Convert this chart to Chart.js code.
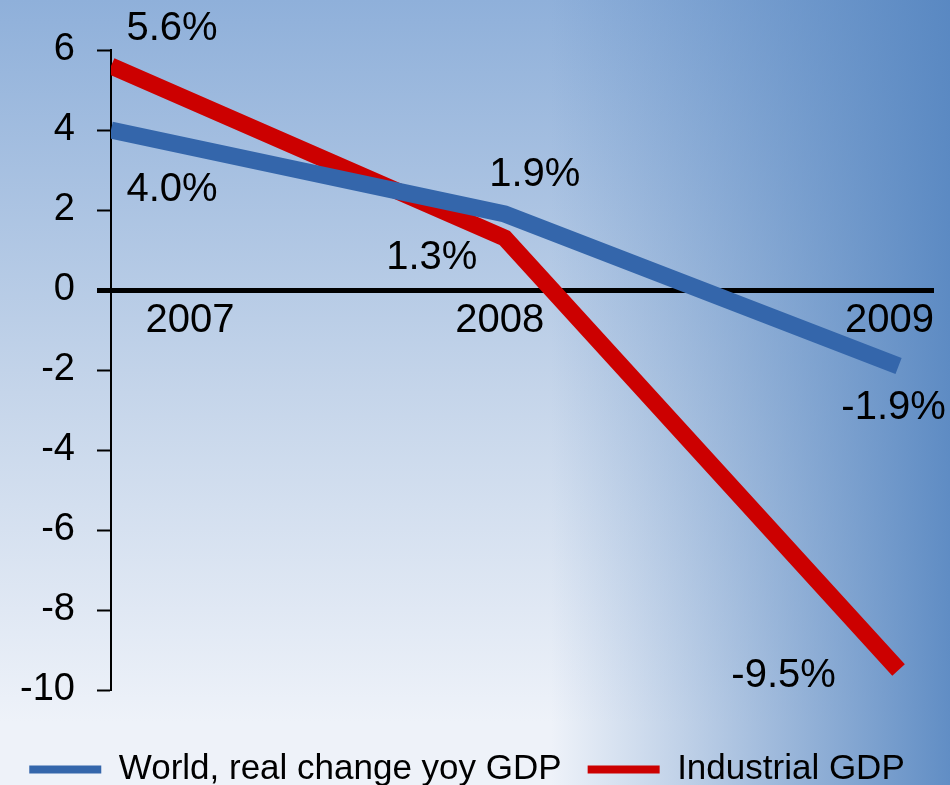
<!DOCTYPE html>
<html>
<head>
<meta charset="utf-8">
<script src="https://cdn.jsdelivr.net/npm/chart.js@4.4.1/dist/chart.umd.min.js"></script>
<style>
  html, body { margin: 0; padding: 0; }
  body {
    width: 950px;
    height: 785px;
    overflow: hidden;
    background:
      linear-gradient(to right, rgba(85,133,192,0) 0%, rgba(85,133,192,0) 58%, rgba(85,133,192,0.92) 100%),
      linear-gradient(to bottom, #8fb0da 0%, #c5d5ea 50%, #eef2f9 92%);
  }
</style>
</head>
<body>
<canvas id="gdpChart" width="950" height="785"></canvas>
<script>
const years = [2007, 2008, 2009];
const worldGdp = [4.0, 1.9, -1.9];
const industrialGdp = [5.6, 1.3, -9.5];
const seriesNames = ['World, real change yoy GDP', 'Industrial GDP'];
const seriesColors = ['#3466ab', '#cc0000'];

const font = '"Liberation Sans", Arial, sans-serif';

// where each value label sits relative to its point
const labelOffsets = [
  [[61, 60], [30, -39], [-5, 42]],
  [[61, -37], [-73, 20], [-115, 6]]
];
// year labels sit just under the zero line
const yearOffsets = [79, -5, -9];

const valueLabels = {
  id: 'valueLabels',
  afterDatasetsDraw(chart) {
    const ctx = chart.ctx;
    ctx.save();
    ctx.font = '40px ' + font;
    ctx.fillStyle = '#000';
    ctx.textAlign = 'center';
    ctx.textBaseline = 'middle';
    chart.data.datasets.forEach((ds, i) => {
      chart.getDatasetMeta(i).data.forEach((pt, j) => {
        const off = labelOffsets[i][j];
        ctx.fillText(ds.data[j].y.toFixed(1) + '%', pt.x + off[0], pt.y + off[1]);
      });
    });
    const xs = chart.scales.x, ys = chart.scales.y;
    const y0 = ys.getPixelForValue(0);
    years.forEach((yr, j) => {
      ctx.fillText(String(yr), xs.getPixelForValue(yr) + yearOffsets[j], y0 + 31);
    });
    ctx.restore();
  }
};

const chart = new Chart(document.getElementById('gdpChart'), {
  type: 'line',
  data: {
    datasets: [
      {
        label: seriesNames[0],
        data: years.map((y, i) => ({ x: y, y: worldGdp[i] })),
        borderColor: seriesColors[0],
        backgroundColor: seriesColors[0],
        borderWidth: 17,
        pointRadius: 0,
        tension: 0,
        clip: 0
      },
      {
        label: seriesNames[1],
        data: years.map((y, i) => ({ x: y, y: industrialGdp[i] })),
        borderColor: seriesColors[1],
        backgroundColor: seriesColors[1],
        borderWidth: 17,
        pointRadius: 0,
        tension: 0,
        clip: 0
      }
    ]
  },
  options: {
    responsive: false,
    animation: false,
    layout: { padding: { top: 50, right: 16, left: 0, bottom: -12 } },
    scales: {
      x: {
        type: 'linear',
        min: 2007,
        max: 2009.09,
        ticks: { display: false },
        grid: { display: false },
        border: { display: false },
        afterFit: s => { s.height = 36; }
      },
      y: {
        min: -10,
        max: 6,
        ticks: {
          stepSize: 2,
          color: '#000',
          padding: 22,
          font: { family: font, size: 38 }
        },
        grid: {
          drawOnChartArea: true,
          tickLength: 14,
          color: c => c.tick && c.tick.value === 0 ? '#000' : 'rgba(0,0,0,0)',
          lineWidth: c => c.tick && c.tick.value === 0 ? 5 : 1,
          tickColor: '#000',
          tickWidth: c => c.tick && c.tick.value === 0 ? 5 : 2
        },
        border: { display: true, color: '#000', width: 2 },
        afterFit: s => { s.width = 111; }
      }
    },
    plugins: {
      tooltip: { enabled: false },
      legend: {
        position: 'bottom',
        labels: {
          boxWidth: 72,
          boxHeight: 8,
          padding: 26,
          color: '#000',
          font: { family: font, size: 35 },
          generateLabels: c => c.data.datasets.map((ds, i) => ({
            text: ds.label,
            fillStyle: ds.borderColor,
            strokeStyle: ds.borderColor,
            lineWidth: 0,
            datasetIndex: i
          }))
        }
      }
    }
  },
  plugins: [valueLabels]
});
</script>
</body>
</html>
